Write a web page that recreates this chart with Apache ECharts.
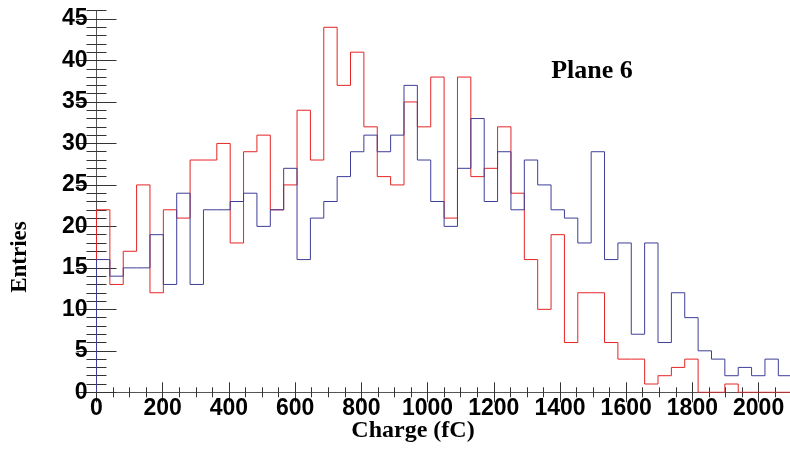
<!DOCTYPE html>
<html>
<head>
<meta charset="utf-8">
<script src="https://cdn.jsdelivr.net/npm/echarts@6/dist/echarts.min.js"></script>
<style>
html,body{margin:0;padding:0;background:#fff}
#chart{width:790px;height:449px}
</style>
</head>
<body>
<div id="chart"></div>
<script>
// 52 bins over 0..2100 fC
const binCount = 52
const binWidth = 2100 / binCount
const redCounts = [22,13,17,25,12,22,21,28,28,30,18,29,31,22,25,34,28,44,37,41,32,26,25,35,32,38,21,38,26,27,32,24,16,10,19,6,12,12,6,4,4,1,2,3,4,0,0,1,0,0,0,0]
const blueCounts = [16,14,15,15,19,13,24,13,22,22,23,24,20,22,27,16,21,23,26,29,31,29,31,37,28,23,20,27,33,23,29,22,28,25,22,21,18,29,16,18,7,18,6,12,9,5,4,2,3,2,4,2]
const xTickLabels = [0,200,400,600,800,1000,1200,1400,1600,1800,2000]
const yTickLabels = [0,5,10,15,20,25,30,35,40,45]
const xMin = 0, xMax = 2100
const yMin = 0, yMax = 46

function histPoints(counts){
  const pts = [[0,0]]
  counts.forEach((v,i)=>pts.push([i*binWidth, v]))
  pts.push([counts.length*binWidth, counts[counts.length-1]])
  return pts
}

const tickColor = '#333'
const lineColor = '#555'
const labelFont = {fontFamily:'"Liberation Sans", Arial, sans-serif', fontWeight:'bold', fontSize:23, color:'#000'}
const nameFont = {fontFamily:'"Liberation Serif", "Times New Roman", serif', fontWeight:'bold', fill:'#000'}
const plain = v => String(v)

function xAxisDef(position, major){
  return {
    type:'value', min:xMin, max:xMax, position:position,
    interval: major ? 200 : 50,
    axisLine:{show: major, lineStyle:{color:lineColor, width:1}},
    axisTick:{show:true, inside:true, length: major ? 10 : 5, lineStyle:{color:tickColor},
      customValues: major ? xTickLabels : undefined},
    axisLabel: (major && position==='bottom')
      ? Object.assign({show:true, margin:5, customValues:xTickLabels, formatter:plain}, labelFont)
      : {show:false},
    splitLine:{show:false}
  }
}
function yAxisDef(position, major){
  return {
    type:'value', min:yMin, max:yMax, position:position,
    interval: major ? 5 : 1,
    axisLine:{show: major, lineStyle:{color:lineColor, width:1}},
    axisTick:{show:true, inside:true, length: major ? 20 : 10, lineStyle:{color:tickColor},
      customValues: major ? yTickLabels : undefined},
    axisLabel: (major && position==='left')
      ? Object.assign({show:true, margin:9, customValues:yTickLabels, formatter:plain}, labelFont)
      : {show:false},
    splitLine:{show:false}
  }
}

const chart = echarts.init(document.getElementById('chart'))
chart.setOption({
  animation:false,
  backgroundColor:'#fff',
  grid:{left:96.5, top:10.7, width:695.2, height:381.6, containLabel:false, outerBoundsMode:'none'},
  xAxis:[xAxisDef('bottom',true), xAxisDef('bottom',false), xAxisDef('top',true), xAxisDef('top',false)],
  yAxis:[yAxisDef('left',true), yAxisDef('left',false), yAxisDef('right',true), yAxisDef('right',false)],
  series:[
    {type:'line', step:'end', xAxisIndex:0, yAxisIndex:0, showSymbol:false, symbol:'none',
     data:histPoints(redCounts), lineStyle:{color:'#e52424', width:1}, z:3},
    {type:'line', step:'end', xAxisIndex:0, yAxisIndex:0, showSymbol:false, symbol:'none',
     data:histPoints(blueCounts), lineStyle:{color:'#3e3e98', width:1}, z:4}
  ],
  graphic:[
    {type:'text', x:20, y:257, rotation:Math.PI/2,
     style:Object.assign({text:'Entries', fontSize:23, align:'center', verticalAlign:'middle'}, nameFont)},
    {type:'text', x:413, y:431,
     style:Object.assign({text:'Charge (fC)', fontSize:24, align:'center', verticalAlign:'middle'}, nameFont)},
    {type:'text', x:592, y:71,
     style:Object.assign({text:'Plane 6', fontSize:26, align:'center', verticalAlign:'middle'}, nameFont)}
  ]
})
window.addEventListener('resize',()=>chart.resize())
</script>
</body>
</html>
